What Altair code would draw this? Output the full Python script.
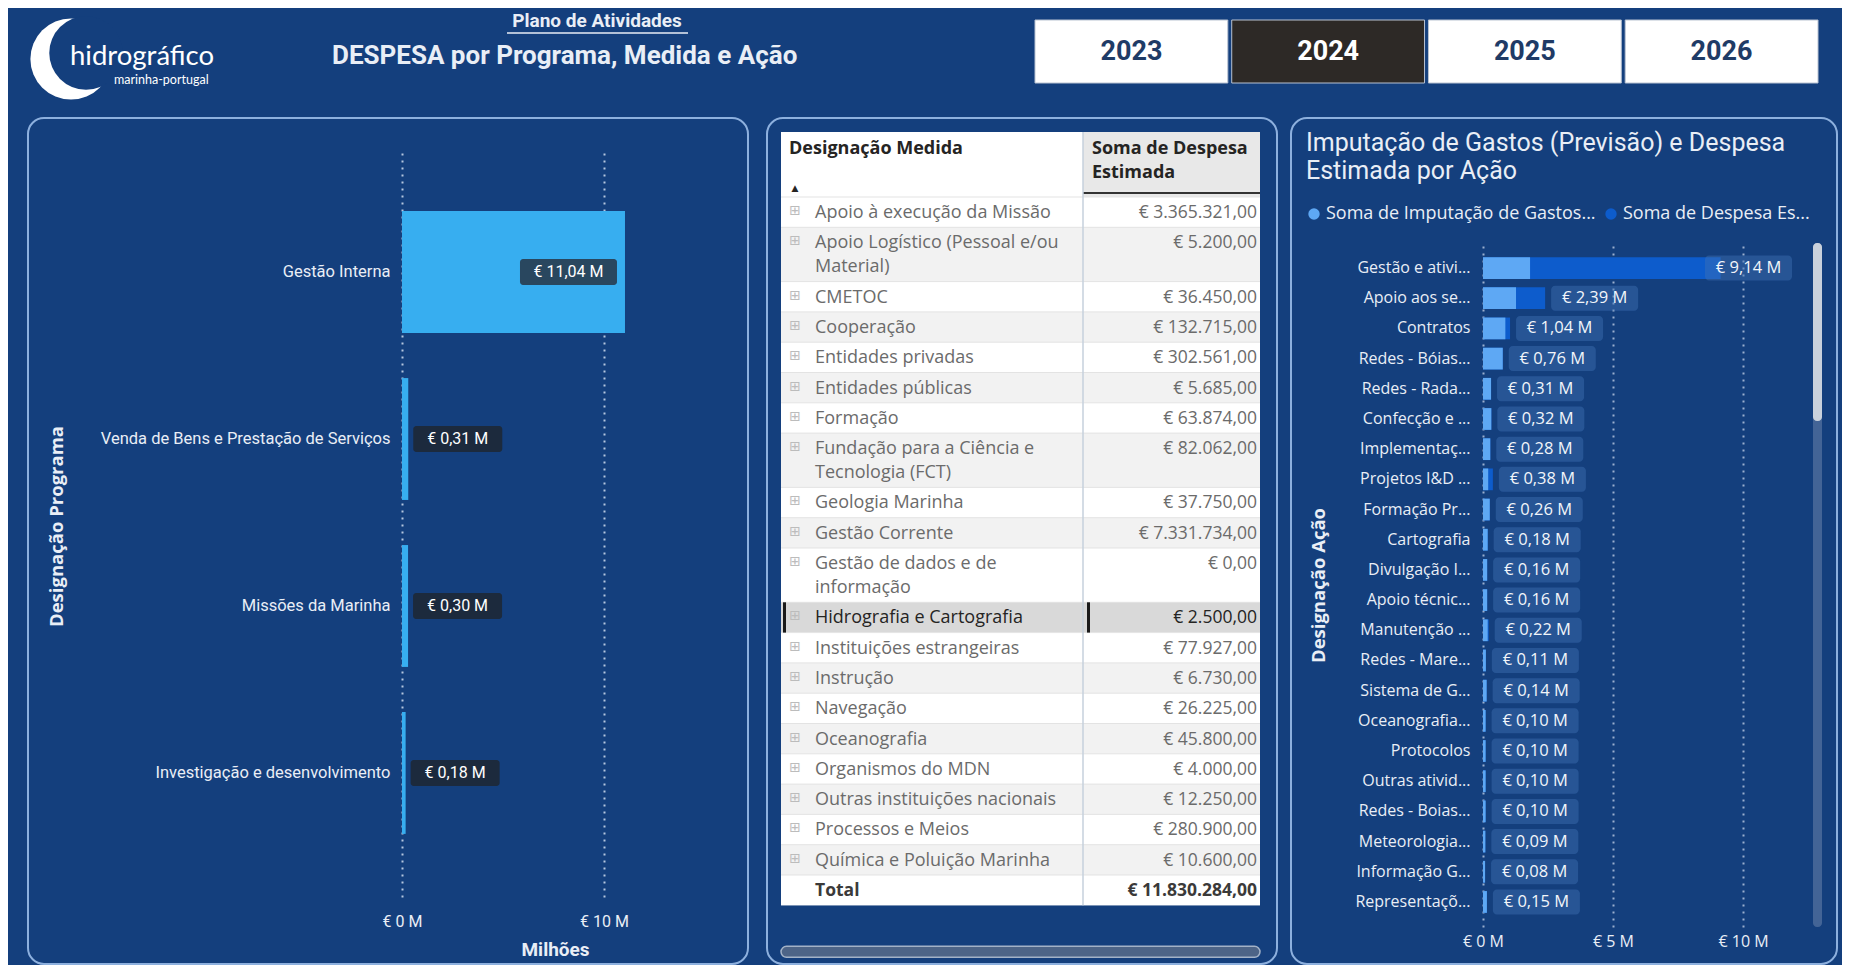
import altair as alt
import pandas as pd

# ---------------- data ----------------
anos = ["2023", "2024", "2025", "2026"]
ano_ativo = "2024"

titulo_sup = "Plano de Atividades"
titulo_principal = "DESPESA por Programa, Medida e Ação"
logo_nome = "hidrográfico"
logo_sub = "marinha-portugal"

programas = ["Gestão Interna", "Venda de Bens e Prestação de Serviços",
             "Missões da Marinha", "Investigação e desenvolvimento"]
despesa_programa_m = [11.04, 0.31, 0.30, 0.18]

colunas_tabela = ["Designação Medida", ["Soma de Despesa", "Estimada"]]
medidas = ["Apoio à execução da Missão", "Apoio Logístico (Pessoal e/ou\nMaterial)", "CMETOC",
           "Cooperação", "Entidades privadas", "Entidades públicas", "Formação",
           "Fundação para a Ciência e\nTecnologia (FCT)", "Geologia Marinha", "Gestão Corrente",
           "Gestão de dados e de\ninformação", "Hidrografia e Cartografia",
           "Instituições estrangeiras", "Instrução", "Navegação", "Oceanografia",
           "Organismos do MDN", "Outras instituições nacionais", "Processos e Meios",
           "Química e Poluição Marinha"]
despesa_medida = [3365321.00, 5200.00, 36450.00, 132715.00, 302561.00, 5685.00, 63874.00,
                  82062.00, 37750.00, 7331734.00, 0.00, 2500.00, 77927.00, 6730.00, 26225.00,
                  45800.00, 4000.00, 12250.00, 280900.00, 10600.00]
medida_selecionada = "Hidrografia e Cartografia"

titulo_acao = ["Imputação de Gastos (Previsão) e Despesa", "Estimada por Ação"]
acoes = ["Gestão e ativi...", "Apoio aos se...", "Contratos", "Redes - Bóias...", "Redes - Rada...",
         "Confecção e ...", "Implementaç...", "Projetos I&D ...", "Formação Pr...", "Cartografia",
         "Divulgação I...", "Apoio técnic...", "Manutenção ...", "Redes - Mare...", "Sistema de G...",
         "Oceanografia...", "Protocolos", "Outras ativid...", "Redes - Boias...", "Meteorologia...",
         "Informação G...", "Representaçõ..."]
despesa_acao_m = [9.14, 2.39, 1.04, 0.76, 0.31, 0.32, 0.28, 0.38, 0.26, 0.18, 0.16, 0.16, 0.22,
                  0.11, 0.14, 0.10, 0.10, 0.10, 0.10, 0.09, 0.08, 0.15]
imputacao_acao_m = [1.81, 1.27, 0.86, 0.76, 0.31, 0.32, 0.28, 0.20, 0.26, 0.18, 0.16, 0.16, 0.18,
                    0.11, 0.14, 0.10, 0.10, 0.10, 0.10, 0.09, 0.08, 0.15]
serie_imputacao = "Soma de Imputação de Gastos (Previsão)"
serie_despesa = "Soma de Despesa Estimada"
legenda_curta = ["Soma de Imputação de Gastos...", "Soma de Despesa Es..."]

# ---------------- style ----------------
BG = "#143f7d"
FRAME = "#8db0de"
TXT = "#e9eef6"
CYAN = "#37aef0"
LIGHT = "#5ea8f4"
DARK = "#0d5ccc"
GRID = "#c8d6ea"


def eur(v):
    s = f"{v:,.2f}"
    return "€ " + s.replace(",", "X").replace(".", ",").replace("X", ".")


def eur_m(v):
    return "€ " + f"{v:.2f}".replace(".", ",") + " M"


one = pd.DataFrame({"k": [0]})


def spacer():
    return alt.Chart(one).mark_rect(opacity=0).encode(
        x=alt.value(0), x2=alt.value(1), y=alt.value(0), y2=alt.value(1)
    ).properties(width=1, height=1)


# ================= HEADER =================
HW, HH = 1834, 100
dano = pd.DataFrame({"ano": anos})
sel_ano = alt.datum.ano == ano_ativo
xano = alt.X("ano:N", sort=anos, axis=None,
             scale=alt.Scale(domain=anos, range=[1027, 1810], paddingInner=0.02, paddingOuter=0))

header = alt.layer(
    alt.Chart(one).mark_circle(size=6600, color="white", opacity=1).encode(
        x=alt.value(63), y=alt.value(51)),
    alt.Chart(one).mark_circle(size=5400, color=BG, opacity=1).encode(
        x=alt.value(78), y=alt.value(45)),
    alt.Chart(one).mark_text(text=logo_nome, align="left", baseline="middle", font="Lato",
                             fontSize=27.5, color="white").encode(x=alt.value(62), y=alt.value(49)),
    alt.Chart(one).mark_text(text=logo_sub, align="left", baseline="middle", font="Lato",
                             fontSize=12.5, color="white").encode(x=alt.value(106), y=alt.value(72)),
    alt.Chart(one).mark_text(text=titulo_sup, align="center", baseline="middle", font="Roboto",
                             fontWeight="bold", fontSize=19, color=TXT).encode(
        x=alt.value(589), y=alt.value(13)),
    alt.Chart(one).mark_rule(color=TXT, strokeWidth=1.5).encode(
        x=alt.value(499), x2=alt.value(680), y=alt.value(25)),
    alt.Chart(one).mark_text(text=titulo_principal, align="left", baseline="middle", font="Roboto",
                             fontWeight="bold", fontSize=26, color=TXT).encode(
        x=alt.value(324), y=alt.value(48)),
    alt.Chart(dano).mark_rect(stroke="#b9c3d2", strokeWidth=1).encode(
        x=xano, y=alt.value(12), y2=alt.value(75),
        color=alt.condition(sel_ano, alt.value("#2d2926"), alt.value("#ffffff"))),
    alt.Chart(dano).mark_text(font="Roboto", fontWeight="bold", fontSize=27, baseline="middle").encode(
        x=xano, y=alt.value(44), text="ano:N",
        color=alt.condition(sel_ano, alt.value("#ffffff"), alt.value("#1f3b66"))),
).properties(width=HW, height=HH)

# ================= LEFT PANEL =================
LW, LH = 306, 749
dprog = pd.DataFrame({"programa": programas, "valor": despesa_programa_m})
dprog["rotulo"] = [eur_m(v) for v in despesa_programa_m]

yl = alt.Y("programa:N", sort=programas,
           scale=alt.Scale(paddingInner=0.27, paddingOuter=0.378),
           axis=alt.Axis(title="Designação Programa", titleX=-346, titleY=378, titleAngle=270,
                         titleBaseline="middle", titleAlign="center", titleFont="Open Sans",
                         titleFontWeight="bold", titleFontSize=18.5, titleColor=TXT,
                         labelFont="Roboto", labelFontSize=16.5, labelColor=TXT, labelPadding=12,
                         labelLimit=400, domain=False, ticks=False))
xl = alt.X("valor:Q", scale=alt.Scale(domain=[0, 15.15], nice=False),
           axis=alt.Axis(values=[0, 10], labelExpr="'€ ' + datum.value + ' M'", title="Milhões",
                         titleY=52, titleBaseline="middle", titleFont="Roboto", titleFontWeight="bold",
                         titleFontSize=19, titleColor=TXT, labelFont="Roboto", labelFontSize=16,
                         labelColor=TXT, labelPadding=16, labelFlush=False, grid=True,
                         gridDash=[2, 5], gridColor=GRID, gridWidth=2, gridOpacity=0.9,
                         domain=False, ticks=False))

fora = alt.Chart(dprog).transform_filter("datum.valor < 8")
dentro = alt.Chart(dprog).transform_filter("datum.valor >= 8")

left = alt.layer(
    alt.Chart(one).mark_rect(fillOpacity=0, stroke=FRAME, strokeWidth=2, cornerRadius=16).encode(
        x=alt.value(-374), x2=alt.value(346), y=alt.value(-30), y2=alt.value(816)),
    alt.Chart(dprog).mark_bar(color=CYAN).encode(x=xl, y=yl),
    fora.mark_bar(size=26, cornerRadius=3, color="#1c2a3d", xOffset=5, x2Offset=94).encode(
        x="valor:Q", x2="valor:Q", y=yl),
    dentro.mark_bar(size=26, cornerRadius=3, color="#29475f", xOffset=-105, x2Offset=-8).encode(
        x="valor:Q", x2="valor:Q", y=yl),
    fora.mark_text(dx=49.5, align="center", baseline="middle", font="Roboto", fontSize=16,
                   color="white").encode(x="valor:Q", y=yl, text="rotulo:N"),
    dentro.mark_text(dx=-56.5, align="center", baseline="middle", font="Roboto", fontSize=16,
                     color="white").encode(x="valor:Q", y=yl, text="rotulo:N"),
).properties(width=LW, height=LH)

# ================= MIDDLE PANEL (table) =================
TW = 479
COL1 = 302
HEADER_H = 65
LINE_H = 24
ROW_PAD = 6.3

nomes = medidas + ["Total"]
valores = despesa_medida + [sum(despesa_medida)]
rows = pd.DataFrame({"nome": nomes, "valor": [eur(v) for v in valores]})
rows["linhas"] = rows["nome"].str.count("\n") + 1
rows["alt"] = ROW_PAD + LINE_H * rows["linhas"]
rows["y0"] = HEADER_H + rows["alt"].cumsum() - rows["alt"]
rows["y1"] = rows["y0"] + rows["alt"]
rows["yb"] = rows["y0"] + 21
rows["yi"] = rows["y0"] + 14
rows["tipo"] = ["total" if n == "Total" else "sel" if n == medida_selecionada
                else ("par" if i % 2 else "impar") for i, n in enumerate(nomes)]
rows["fundo"] = rows["tipo"].map({"total": "#ffffff", "sel": "#d9d9d9", "par": "#f2f2f2",
                                  "impar": "#ffffff"})
rows["cor"] = rows["tipo"].map({"total": "#3b3a39", "sel": "#252423", "par": "#6b6b6b",
                                "impar": "#6b6b6b"})
TH = float(rows["y1"].iloc[-1])

ysc = alt.Scale(domain=[0, TH], reverse=True, nice=False, zero=False)


def ym(f):
    return alt.Y(f, type="quantitative", scale=ysc, axis=None)


trows = alt.Chart(rows)
normais = trows.transform_filter("datum.tipo != 'total'")
total = trows.transform_filter("datum.tipo == 'total'")
selec = trows.transform_filter("datum.tipo == 'sel'")

middle = alt.layer(
    alt.Chart(one).mark_rect(fillOpacity=0, stroke=FRAME, strokeWidth=2, cornerRadius=16).encode(
        x=alt.value(-14), x2=alt.value(496), y=alt.value(-14), y2=alt.value(832)),
    alt.Chart(one).mark_rect(color="white").encode(
        x=alt.value(0), x2=alt.value(TW), y=alt.value(0), y2=alt.value(TH)),
    alt.Chart(one).mark_rect(color="#e8e8e8").encode(
        x=alt.value(COL1), x2=alt.value(TW), y=alt.value(0), y2=alt.value(HEADER_H)),
    trows.mark_rect().encode(x=alt.value(0), x2=alt.value(TW), y=ym("y0"), y2="y1:Q",
                             color=alt.Color("fundo:N", scale=None)),
    trows.mark_rule(color="#e3e3e3", strokeWidth=1).encode(
        x=alt.value(0), x2=alt.value(TW), y=ym("y0")),
    alt.Chart(one).mark_rule(color="#333333", strokeWidth=2).encode(
        x=alt.value(COL1), x2=alt.value(TW), y=alt.value(HEADER_H - 4)),
    alt.Chart(one).mark_rule(color="#c6d0dc", strokeWidth=1.5).encode(
        x=alt.value(COL1), y=alt.value(0), y2=alt.value(TH)),
    selec.mark_rect(color="#1a1a1a").encode(x=alt.value(2), x2=alt.value(5), y=ym("y0"), y2="y1:Q"),
    selec.mark_rect(color="#1a1a1a").encode(x=alt.value(COL1 + 4), x2=alt.value(COL1 + 7),
                                            y=ym("y0"), y2="y1:Q"),
    normais.mark_text(text="⊞", font="DejaVu Sans", fontSize=14, color="#bcbcbc",
                      baseline="middle", align="center").encode(x=alt.value(14), y=ym("yi")),
    normais.mark_text(align="left", baseline="alphabetic", font="Open Sans", fontSize=18,
                      lineBreak="\n", lineHeight=LINE_H).encode(
        x=alt.value(34), y=ym("yb"), text="nome:N", color=alt.Color("cor:N", scale=None)),
    normais.mark_text(align="right", baseline="alphabetic", font="Open Sans", fontSize=17.5).encode(
        x=alt.value(TW - 3), y=ym("yb"), text="valor:N", color=alt.Color("cor:N", scale=None)),
    total.mark_text(align="left", baseline="alphabetic", font="Open Sans", fontSize=17.5,
                    fontWeight="bold", color="#3b3a39").encode(
        x=alt.value(34), y=ym("yb"), text="nome:N"),
    total.mark_text(align="right", baseline="alphabetic", font="Open Sans", fontSize=17.5,
                    fontWeight="bold", color="#3b3a39").encode(
        x=alt.value(TW - 3), y=ym("yb"), text="valor:N"),
    alt.Chart(one).mark_text(text=colunas_tabela[0], align="left", baseline="alphabetic",
                             font="Open Sans", fontWeight="bold", fontSize=18,
                             color="#252423").encode(x=alt.value(8), y=alt.value(22)),
    alt.Chart(one).mark_text(text=colunas_tabela[1], align="left", baseline="alphabetic",
                             font="Open Sans", fontWeight="bold", fontSize=18, lineHeight=24,
                             color="#252423").encode(x=alt.value(COL1 + 9), y=alt.value(22)),
    alt.Chart(one).mark_text(text="▲", font="DejaVu Sans", fontSize=9, color="#252423").encode(
        x=alt.value(14), y=alt.value(HEADER_H - 9)),
    alt.Chart(one).mark_rect(fill="#4d6487", stroke="#a3b2c7", strokeWidth=1.5, cornerRadius=6).encode(
        x=alt.value(0), x2=alt.value(TW), y=alt.value(TH + 41), y2=alt.value(TH + 52)),
).properties(width=TW, height=TH)

# ================= RIGHT PANEL =================
RW, RH = 312, 684
XMAX = 12
n = len(acoes)
dacao = pd.DataFrame({"acao": acoes, "despesa": despesa_acao_m})
dacao["rotulo"] = [eur_m(v) for v in despesa_acao_m]
dlong = pd.DataFrame({
    "acao": acoes + acoes,
    "serie": [serie_despesa] * n + [serie_imputacao] * n,
    "valor": despesa_acao_m + imputacao_acao_m,
    "ordem": [0] * n + [1] * n,
})
clamp = (RW - 3 - 93) / (RW / XMAX)

yr = alt.Y("acao:N", sort=acoes, scale=alt.Scale(paddingInner=0.28, paddingOuter=0.47),
           axis=alt.Axis(title="Designação Ação", titleX=-165, titleY=RH / 2, titleAngle=270,
                         titleBaseline="middle", titleAlign="center", titleFont="Open Sans",
                         titleFontWeight="bold", titleFontSize=18.5, titleColor=TXT,
                         labelFont="Open Sans", labelFontSize=16, labelColor=TXT, labelPadding=13,
                         labelLimit=300, domain=False, ticks=False))
xr = alt.X("valor:Q", stack=None, scale=alt.Scale(domain=[0, XMAX], nice=False),
           axis=alt.Axis(values=[0, 5, 10], labelExpr="'€ ' + datum.value + ' M'", title=None,
                         labelFont="Open Sans", labelFontSize=16, labelColor=TXT, labelPadding=6,
                         labelFlush=False, grid=True, gridDash=[2, 5], gridColor=GRID, gridWidth=2,
                         gridOpacity=0.75, domain=False, ticks=False))
leg_expr = (f"datum.label == '{serie_imputacao}' ? '{legenda_curta[0]}' : '{legenda_curta[1]}'")

lab = alt.Chart(dacao).transform_calculate(lx=f"min(datum.despesa, {clamp})")

right = alt.layer(
    alt.Chart(one).mark_rect(fillOpacity=0, stroke=FRAME, strokeWidth=2, cornerRadius=16).encode(
        x=alt.value(-192), x2=alt.value(354), y=alt.value(-125), y2=alt.value(721)),
    alt.Chart(one).mark_text(text=titulo_acao, align="left", baseline="alphabetic", font="Roboto",
                             fontSize=25, lineHeight=28, color=TXT).encode(
        x=alt.value(-177), y=alt.value(-92)),
    alt.Chart(dlong).mark_bar().encode(
        x=xr, y=yr,
        color=alt.Color("serie:N", scale=alt.Scale(domain=[serie_imputacao, serie_despesa],
                                                   range=[LIGHT, DARK]),
                        legend=alt.Legend(title=None, orient="none", legendX=-178, legendY=-38,
                                          direction="horizontal", symbolType="circle",
                                          symbolSize=130, symbolStrokeWidth=0,
                                          labelFont="Open Sans", labelFontSize=18,
                                          labelColor=TXT, labelLimit=400, columnPadding=6,
                                          labelOffset=3, labelExpr=leg_expr)),
        order=alt.Order("ordem:Q")),
    lab.mark_bar(size=25, cornerRadius=4, color="#3f70b3", opacity=0.45, xOffset=6,
                 x2Offset=93).encode(x=alt.X("lx:Q", title=None), x2="lx:Q", y=yr),
    lab.mark_text(dx=49.5, align="center", baseline="middle", font="Open Sans", fontSize=16.5,
                  color="#f2f5fa").encode(x=alt.X("lx:Q", title=None), y=yr, text="rotulo:N"),
    alt.Chart(one).mark_rect(color="#7d93b6", opacity=0.45, cornerRadius=4).encode(
        x=alt.value(RW + 18), x2=alt.value(RW + 27), y=alt.value(0), y2=alt.value(RH)),
    alt.Chart(one).mark_rect(color="#c9d1dc", cornerRadius=4).encode(
        x=alt.value(RW + 18), x2=alt.value(RW + 27), y=alt.value(0), y2=alt.value(178)),
).properties(width=RW, height=RH)

# ================= ASSEMBLY =================
col_l = alt.vconcat(spacer(), left, spacing=0)
col_m = alt.vconcat(spacer(), middle, spacing=0)
col_r = alt.vconcat(spacer(), right, spacing=0).resolve_scale(color="independent")

mr = alt.hconcat(col_m, col_r, spacing=12).resolve_scale(color="independent")
lmr = alt.hconcat(col_l, mr, spacing=17).resolve_scale(color="independent")
linha = alt.hconcat(spacer(), lmr, spacing=18).resolve_scale(color="independent")

chart = alt.vconcat(header, linha, spacing=8).resolve_scale(color="independent").properties(
    background=BG, padding=0
).configure(font="Roboto").configure_view(strokeWidth=0, stroke="transparent")

chart.save("out.html", embed_options={"renderer": "svg", "actions": False})
